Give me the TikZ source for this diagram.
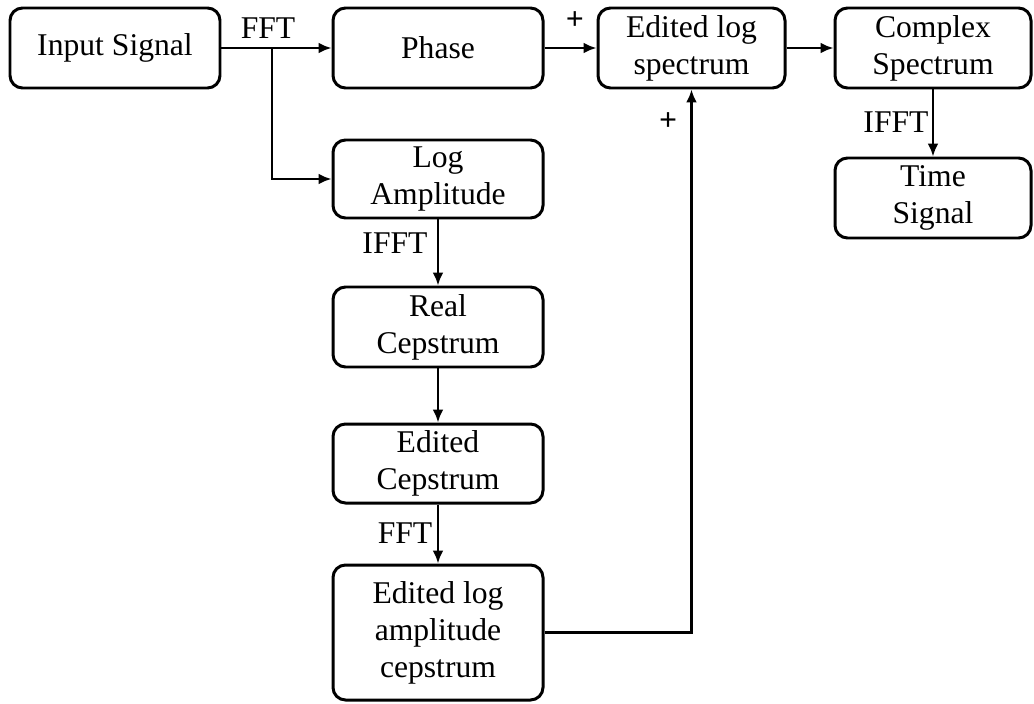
\documentclass[tikz,border=0pt]{standalone}
\usepackage{fontspec}
\setmainfont{Liberation Serif}
\usepackage{tikz}
\usetikzlibrary{arrows.meta,positioning,calc}

\begin{document}
\begin{tikzpicture}[
  font=\fontsize{18}{21}\selectfont,
  block/.style={draw, line width=1.7pt, rounded corners=0.25cm, minimum height=1.6cm, minimum width=4.2cm, align=center, inner sep=2pt},
  narrow/.style={block, minimum width=3.8cm},
  flow/.style={-{Latex[length=2.6mm,width=2.2mm]}, line width=1.4pt},
  lbl/.style={inner sep=0pt}
]
\useasboundingbox (0,0) rectangle (20.68,-14.06);

\node[block] (input) at (2.30,-0.96) {Input Signal};
\node[block] (phase) at (8.76,-0.96) {Phase};
\node[narrow, minimum width=3.74cm] (edspec) at (13.83,-0.96) {Edited log\\spectrum};
\node[narrow, minimum width=3.92cm] (complex) at (18.66,-0.96) {Complex\\Spectrum};
\node[narrow, minimum width=3.92cm] (time) at (18.66,-3.96) {Time\\Signal};

\node[block, minimum height=1.56cm] (logamp) at (8.76,-3.58) {Log\\Amplitude};
\node[block] (realcep) at (8.76,-6.54) {Real\\Cepstrum};
\node[block, minimum height=1.58cm] (edcep) at (8.76,-9.27) {Edited\\Cepstrum};
\node[block, minimum height=2.7cm] (edamp) at (8.76,-12.65) {Edited log\\amplitude\\cepstrum};

\coordinate (split) at (5.44,-0.96);

\draw[flow] (input) -- (phase);
\draw[flow] (split) |- (logamp.west);
\draw[flow] (phase) -- (edspec);
\draw[flow] (edspec) -- (complex);
\draw[flow] (complex) -- (time);
\draw[flow] (logamp) -- (realcep);
\draw[flow] (realcep) -- (edcep);
\draw[flow] (edcep) -- (edamp);
\draw[flow] (edamp.east) -| (edspec.south);

% transform labels
\node[lbl] (fft1) at (5.36,-0.56) {FFT};
\node[lbl] (plus1) at (11.5,-0.42) {\textbf{+}};
\node[lbl] (plus2) at (13.36,-2.44) {\textbf{+}};
\node[lbl] (ifft1) at (17.92,-2.44) {IFFT};
\node[lbl] (ifft2) at (7.9,-4.86) {IFFT};
\node[lbl] (fft2) at (8.1,-10.66) {FFT};
\end{tikzpicture}
\end{document}
